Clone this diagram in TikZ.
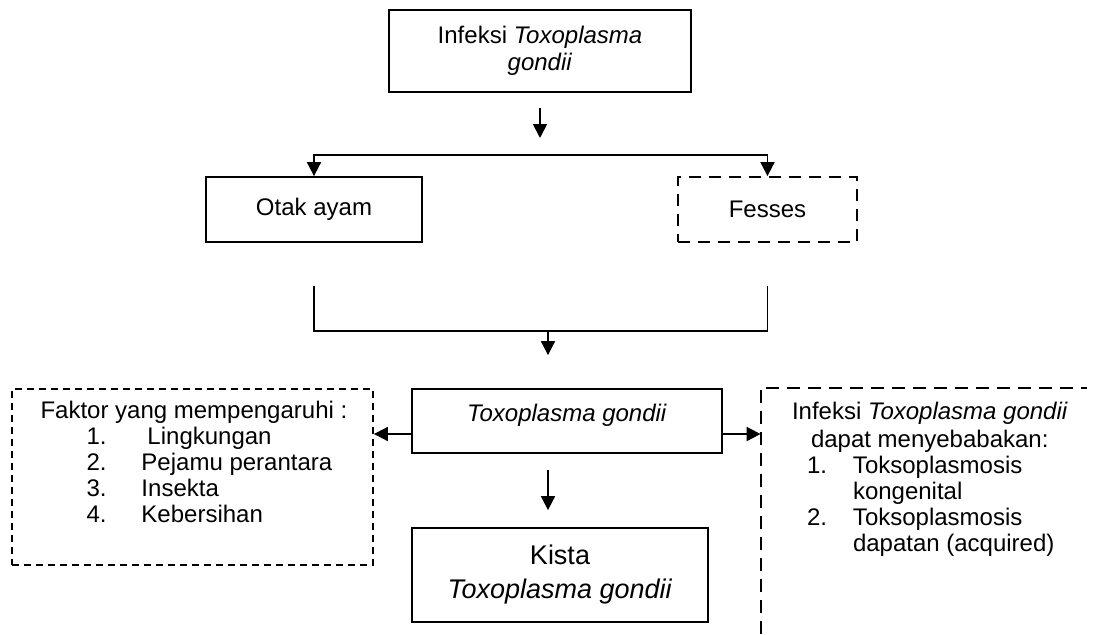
\documentclass[tikz,border=0pt]{standalone}
\usepackage{fontspec}
\setmainfont{Liberation Sans}
\usetikzlibrary{positioning,calc,arrows.meta}
\tikzset{
  box/.style={draw, line width=0.9pt, inner sep=2pt, align=center,
    font=\fontsize{12}{13.5}\selectfont},
  dashbox/.style={box, dash pattern=on 6pt off 4pt},
  shortdash/.style={draw, line width=0.9pt, dash pattern=on 3.5pt off 2.5pt},
  longdash/.style={line width=0.9pt, dash pattern=on 6.5pt off 4pt},
  arr/.style={-{Triangle[length=7pt,width=7pt]}, line width=0.9pt},
  link/.style={line width=0.9pt},
  listtext/.style={inner sep=0pt, align=left, font=\fontsize{12}{13}\selectfont},
}
\begin{document}
\begin{tikzpicture}[x=0.5pt,y=-0.5pt]
    \useasboundingbox (0,0) rectangle (1098,634);
    % boxes
    \node[box, minimum width=151pt, minimum height=41pt] (infeksi) at (540,51) {Infeksi \textit{Toxoplasma}\\\textit{gondii}};
    \node[box, minimum width=108pt, minimum height=32.5pt] (otak) at (314,209.5) {Otak ayam};
    \node[dashbox, minimum width=89.5pt, minimum height=32.5pt] (fesses) at (767.5,209.5) {Fesses};
    \node[box, minimum width=155pt, minimum height=32pt, text height=1.4ex, text depth=1.4ex] (toxo) at (567,421) {\textit{Toxoplasma gondii}};
    \node[box, minimum width=148pt, minimum height=47pt, font=\fontsize{13.5}{17}\selectfont] (kista) at (560,575) {Kista\\\textit{Toxoplasma gondii}};
    \node[shortdash, minimum width=180.5pt, minimum height=88pt, inner sep=0pt] (faktor) at (192.5,477) {};
    \node[minimum width=163pt, minimum height=123pt, inner sep=0pt] (akibat) at (924,511) {};
    \draw[longdash] (akibat.south west) -- (akibat.north west) -- (akibat.north east);
    % texts in the dashed boxes
    \node[listtext, anchor=north west] (faktortext) at ($(faktor.north west)+(29,13)$) {%
        Faktor yang mempengaruhi :\\
        \hspace*{23pt}\makebox[27.5pt][l]{1.}\hspace{3pt}Lingkungan\\
        \hspace*{23pt}\makebox[27.5pt][l]{2.}Pejamu perantara\\
        \hspace*{23pt}\makebox[27.5pt][l]{3.}Insekta\\
        \hspace*{23pt}\makebox[27.5pt][l]{4.}Kebersihan};
    \node[listtext, anchor=north west] (akibattext) at ($(akibat.north west)+(31,14)$) {%
        Infeksi \textit{Toxoplasma gondii}\\[1pt]
        \hspace*{9.5pt}dapat menyebabakan:\\
        \hspace*{7.5pt}\makebox[23pt][l]{1.}Toksoplasmosis\\
        \hspace*{30.5pt}kongenital\\
        \hspace*{7.5pt}\makebox[23pt][l]{2.}Toksoplasmosis\\
        \hspace*{30.5pt}dapatan (acquired)};
    % connectors
    \coordinate (split) at (540,155);
    \coordinate (merge) at (548,331);
    \draw[arr, shorten <=7.5pt, shorten >=8.5pt] (infeksi.south) -- (split);
    \draw[arr] (split) -| (otak.north);
    \draw[arr] (split) -| (fesses.north);
    \draw[link] ($(otak.south)+(0,43)$) |- (merge) -| ($(fesses.south)+(0,43)$);
    \draw[arr, shorten >=16.5pt] (merge) -- (merge |- toxo.north);
    \coordinate (tl) at ($(toxo.west)+(0,13)$);
    \coordinate (tr) at ($(toxo.east)+(0,13)$);
    \draw[arr] (tl) -- (faktor.east |- tl);
    \draw[arr] (tr) -- (akibat.west |- tr);
    \draw[arr, shorten <=8pt, shorten >=8.5pt] (merge |- toxo.south) -- (merge |- kista.north);
\end{tikzpicture}
\end{document}
